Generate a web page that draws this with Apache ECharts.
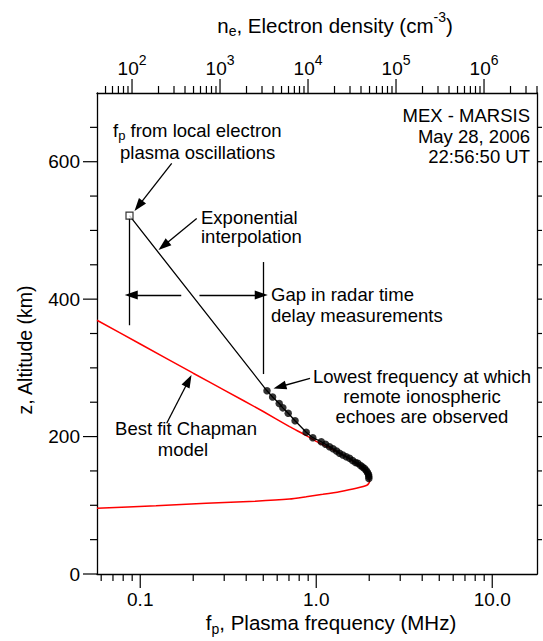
<!DOCTYPE html>
<html>
<head>
<meta charset="utf-8">
<script src="https://cdn.jsdelivr.net/npm/echarts@6/dist/echarts.min.js"></script>
<style>html,body{margin:0;padding:0;background:#fff}#chart{width:543px;height:641px}</style>
</head>
<body>
<div id="chart"></div>
<script>
// ---------------- data ----------------
// Best fit Chapman model: plasma frequency (MHz) and altitude (km)
const chapmanFreq = [0.0568, 0.1, 0.2, 0.3, 0.5, 0.705, 0.858, 1.0, 1.2, 1.4, 1.6, 1.8, 1.93, 2.0, 2.008, 1.95, 1.688, 1.356, 1.09, 0.877, 0.705, 0.45, 0.237, 0.123, 0.0568];
const chapmanAlt  = [369.3, 334.7, 292.2, 267.7, 236.5, 214.5, 202.8, 193, 183, 174, 165, 155, 146, 138, 134.3, 129.5, 124.7, 119.8, 116, 112.5, 109.2, 106, 102.9, 99.4, 95.6];
// Remote ionospheric echoes (MARSIS radar)
const echoFreq = [0.525, 0.565, 0.616, 0.646, 0.693, 0.758, 0.877, 0.956, 1.068, 1.129, 1.19, 1.246, 1.304, 1.356, 1.416, 1.481, 1.546, 1.608, 1.672, 1.723, 1.785, 1.833, 1.881, 1.923, 1.956, 1.982, 1.99, 1.99];
const echoAlt  = [266.6, 257.6, 248.1, 241.8, 233.9, 223.1, 206.2, 198.4, 192.5, 188.8, 185.3, 182.2, 179.0, 175.7, 173.2, 170.7, 168.4, 165.2, 162.3, 161.1, 157.9, 155.7, 153.5, 150.6, 147.7, 144.8, 141.9, 139.0];
// Local electron plasma oscillation
const localFreq = [0.0869];
const localAlt  = [521.5];
// Gap markers (frequency, altitude span)
const gapLeftFreq = 0.0869, gapLeftAlt = [518, 362];
const gapRightFreq = 0.498, gapRightAlt = [454, 291];
const gapArrowAlt = 406;
const gapArrowFreq = [0.0889, 0.171, 0.217, 0.487];

// axis ranges and ticks
const freqRange = [0.0568, 17.96];
const densityRange = [40, 4e6];
const altRange = [0, 700];
const freqMajorTicks = [0.1, 1, 10];
const freqTickLabels = ['0.1', '1.0', '10.0'];
const freqMinorTicks = [0.06, 0.07, 0.08, 0.09, 0.2, 0.3, 0.4, 0.5, 0.6, 0.7, 0.8, 0.9, 2, 3, 4, 5, 6, 7, 8, 9];
const densityMajorTicks = [1e2, 1e3, 1e4, 1e5, 1e6];
const densityTickExponents = ['2', '3', '4', '5', '6'];
const densityMinorTicks = [50, 60, 70, 80, 90, 200, 300, 400, 500, 600, 700, 800, 900,
  2e3, 3e3, 4e3, 5e3, 6e3, 7e3, 8e3, 9e3, 2e4, 3e4, 4e4, 5e4, 6e4, 7e4, 8e4, 9e4,
  2e5, 3e5, 4e5, 5e5, 6e5, 7e5, 8e5, 9e5, 2e6, 3e6, 4e6];
const altMajorTicks = [0, 200, 400, 600];
const altMinorTicks = [50, 100, 150, 250, 300, 350, 450, 500, 550, 650];
const altRightTicks = [50, 100, 150, 200, 250, 300, 350, 400, 450, 500, 550, 600, 650];

// ---------------- chart ----------------
const FONT = "'Liberation Sans', Arial, Helvetica, sans-serif";
const chart = echarts.init(document.getElementById('chart'), null, {renderer: 'svg'});

const zip = (a, b) => a.map((v, i) => [v, b[i]]);
const isTick = (v, t) => Math.abs(Math.log10(v) - Math.log10(t)) < 1e-6;

// tick marks: [x, y, length, direction]  direction: 0 down, 1 up, 2 left, 3 right
const bottomLeftRightTicks = [];
freqMajorTicks.forEach(v => bottomLeftRightTicks.push([v, altRange[0], 14, 0]));
freqMinorTicks.forEach(v => bottomLeftRightTicks.push([v, altRange[0], 7, 0]));
altMajorTicks.forEach(z => bottomLeftRightTicks.push([freqRange[0], z, 14, 2]));
altMinorTicks.forEach(z => bottomLeftRightTicks.push([freqRange[0], z, 7, 2]));
altRightTicks.forEach(z => bottomLeftRightTicks.push([freqRange[1], z, 5, 3]));
const topTicks = [];
densityMajorTicks.forEach(v => topTicks.push([v, altRange[1], 14, 1]));
densityMinorTicks.forEach(v => topTicks.push([v, altRange[1], 7, 1]));

function renderTick(params, api) {
  const p = api.coord([api.value(0), api.value(1)]);
  const len = api.value(2);
  const d = [[0, 1], [0, -1], [-1, 0], [1, 0]][api.value(3)];
  return {type: 'line', shape: {x1: p[0], y1: p[1], x2: p[0] + d[0] * len, y2: p[1] + d[1] * len},
          style: {stroke: '#000', lineWidth: 1.2}};
}

// annotation arrows in pixel space; the line stops at the centre of the arrow head
const HEAD = [9, 13];
function arrow(x1, y1, x2, y2) {
  const dx = x2 - x1, dy = y2 - y1, L = Math.hypot(dx, dy);
  const ex = x2 - dx / L * HEAD[1] / 2, ey = y2 - dy / L * HEAD[1] / 2;
  return [{x: x1, y: y1, symbol: 'none'}, {x: ex, y: ey, symbol: 'triangle', symbolSize: HEAD}];
}
function arrowData(f1, f2, z) { // arrow in data coordinates
  return [{coord: [f1, z], symbol: 'none'}, {coord: [f2, z], symbol: 'triangle', symbolSize: HEAD}];
}

const rich = {
  m: {fontFamily: FONT, fontSize: 20.5, lineHeight: 30, fill: '#000', color: '#000'},
  sub: {fontFamily: FONT, fontSize: 14, lineHeight: 30, verticalAlign: 'bottom', padding: [0, 0, 2, 0], fill: '#000', color: '#000'},
  sup: {fontFamily: FONT, fontSize: 14, lineHeight: 30, verticalAlign: 'top', fill: '#000', color: '#000'},
  ml: {fontFamily: FONT, fontSize: 19.5, lineHeight: 24, fill: '#000', color: '#000'},
  a: {fontFamily: FONT, fontSize: 18.5, lineHeight: 23, fill: '#000', color: '#000'},
  asub: {fontFamily: FONT, fontSize: 13, lineHeight: 23, verticalAlign: 'bottom', fill: '#000', color: '#000'}
};

function txt(x, y, text, align, extra) {
  return Object.assign({
    type: 'text', x: x, y: y, silent: true,
    style: {text: text, fontFamily: FONT, fontSize: 18.5, fill: '#000',
            align: align, textAlign: align, verticalAlign: 'middle', textVerticalAlign: 'middle', rich: rich}
  }, extra || {});
}

const axisLineStyle = {show: true, onZero: false, lineStyle: {color: '#000', width: 1.3}};

const option = {
  animation: false,
  backgroundColor: '#fff',
  grid: {left: 97, top: 93, right: 6, bottom: 67, containLabel: false, outerBoundsMode: 'none'},
  xAxis: [
    {
      type: 'log', logBase: 10, min: freqRange[0], max: freqRange[1], position: 'bottom',
      axisLine: axisLineStyle, axisTick: {show: false}, minorTick: {show: false},
      splitLine: {show: false}, minorSplitLine: {show: false},
      axisLabel: {
        show: true, margin: 16, color: '#000', fontFamily: FONT, fontSize: 19,
        formatter: v => { const i = freqMajorTicks.findIndex(t => isTick(v, t)); return i >= 0 ? freqTickLabels[i] : ''; }
      }
    },
    {
      type: 'log', logBase: 10, min: densityRange[0], max: densityRange[1], position: 'top',
      axisLine: axisLineStyle, axisTick: {show: false}, minorTick: {show: false},
      splitLine: {show: false}, minorSplitLine: {show: false},
      axisLabel: {
        show: true, margin: 10, color: '#000',
        formatter: v => { const i = densityMajorTicks.findIndex(t => isTick(v, t)); return i >= 0 ? '{b|10}{s|' + densityTickExponents[i] + '}' : ''; },
        rich: {
          b: {fontFamily: FONT, fontSize: 19, lineHeight: 30, color: '#000'},
          s: {fontFamily: FONT, fontSize: 14, lineHeight: 30, verticalAlign: 'top', color: '#000'}
        }
      }
    }
  ],
  yAxis: [
    {
      type: 'value', min: altRange[0], max: altRange[1], interval: 100, position: 'left',
      axisLine: axisLineStyle, axisTick: {show: false}, splitLine: {show: false},
      axisLabel: {
        margin: 17, color: '#000', fontFamily: FONT, fontSize: 19,
        formatter: v => altMajorTicks.indexOf(v) >= 0 ? String(v) : ''
      }
    },
    {
      type: 'value', min: altRange[0], max: altRange[1], interval: 100, position: 'right',
      axisLine: axisLineStyle, axisTick: {show: false}, splitLine: {show: false}, axisLabel: {show: false}
    }
  ],
  series: [
    {
      name: 'ticks', type: 'custom', xAxisIndex: 0, yAxisIndex: 0, silent: true, clip: false, z: 5,
      renderItem: renderTick, data: bottomLeftRightTicks, encode: {x: 0, y: 1}
    },
    {
      name: 'topTicks', type: 'custom', xAxisIndex: 1, yAxisIndex: 0, silent: true, clip: false, z: 5,
      renderItem: renderTick, data: topTicks, encode: {x: 0, y: 1}
    },
    {
      name: 'Chapman', type: 'line', xAxisIndex: 0, yAxisIndex: 0, data: zip(chapmanFreq, chapmanAlt),
      showSymbol: false, symbol: 'none', smooth: 0.2, silent: true,
      lineStyle: {color: '#ff0000', width: 1.5}, z: 2
    },
    {
      name: 'interpolation', type: 'line', xAxisIndex: 0, yAxisIndex: 0,
      data: zip(localFreq, localAlt).concat(zip(echoFreq, echoAlt)),
      showSymbol: false, symbol: 'none', silent: true,
      lineStyle: {color: '#000', width: 1.3}, z: 3,
      markLine: {
        silent: true, animation: false, label: {show: false},
        lineStyle: {color: '#000', width: 1.3, type: 'solid'},
        emphasis: {disabled: true},
        data: [
          [{coord: [gapLeftFreq, gapLeftAlt[0]], symbol: 'none'}, {coord: [gapLeftFreq, gapLeftAlt[1]], symbol: 'none'}],
          [{coord: [gapRightFreq, gapRightAlt[0]], symbol: 'none'}, {coord: [gapRightFreq, gapRightAlt[1]], symbol: 'none'}],
          arrowData(gapArrowFreq[1], gapArrowFreq[0], gapArrowAlt),
          arrowData(gapArrowFreq[2], gapArrowFreq[3], gapArrowAlt),
          arrow(171.7, 163.3, 134.5, 211),
          arrow(196.7, 218.5, 158.5, 250),
          arrow(310, 378.3, 273.5, 388.5),
          arrow(166.7, 423.3, 191.5, 375)
        ]
      }
    },
    {
      name: 'echoes', type: 'scatter', xAxisIndex: 0, yAxisIndex: 0, data: zip(echoFreq, echoAlt),
      symbol: 'circle', symbolSize: 7.5, silent: true, itemStyle: {color: '#000'}, z: 4
    },
    {
      name: 'local', type: 'scatter', xAxisIndex: 0, yAxisIndex: 0, data: zip(localFreq, localAlt),
      symbol: 'rect', symbolSize: 7, silent: true,
      itemStyle: {color: '#fff', borderColor: '#000', borderWidth: 1.2}, z: 6
    }
  ],
  graphic: [
    txt(335, 25, '{m|n}{sub|e}{m|, Electron density (cm}{sup|-3}{m|)}', 'center'),
    txt(331, 622.6, '{m|f}{sub|p}{m|, Plasma frequency (MHz)}', 'center'),
    txt(25, 350, '{ml|z, Altitude (km)}', 'center', {rotation: Math.PI / 2}),
    txt(530, 115, 'MEX - MARSIS', 'right'),
    txt(530, 136, 'May 28, 2006', 'right'),
    txt(530, 156, '22:56:50 UT', 'right'),
    txt(113, 130, '{a|f}{asub|p}{a| from local electron}', 'left'),
    txt(120, 152.5, 'plasma oscillations', 'left'),
    txt(201, 217, 'Exponential', 'left'),
    txt(201, 236.5, 'interpolation', 'left'),
    txt(271, 294, 'Gap in radar time', 'left'),
    txt(271, 315, 'delay measurements', 'left'),
    txt(422, 376, 'Lowest frequency at which', 'center'),
    txt(422, 396, 'remote ionospheric', 'center'),
    txt(422, 416, 'echoes are observed', 'center'),
    txt(186, 428, 'Best fit Chapman', 'center'),
    txt(183, 449, 'model', 'center')
  ]
};

chart.setOption(option);
</script>
</body>
</html>
